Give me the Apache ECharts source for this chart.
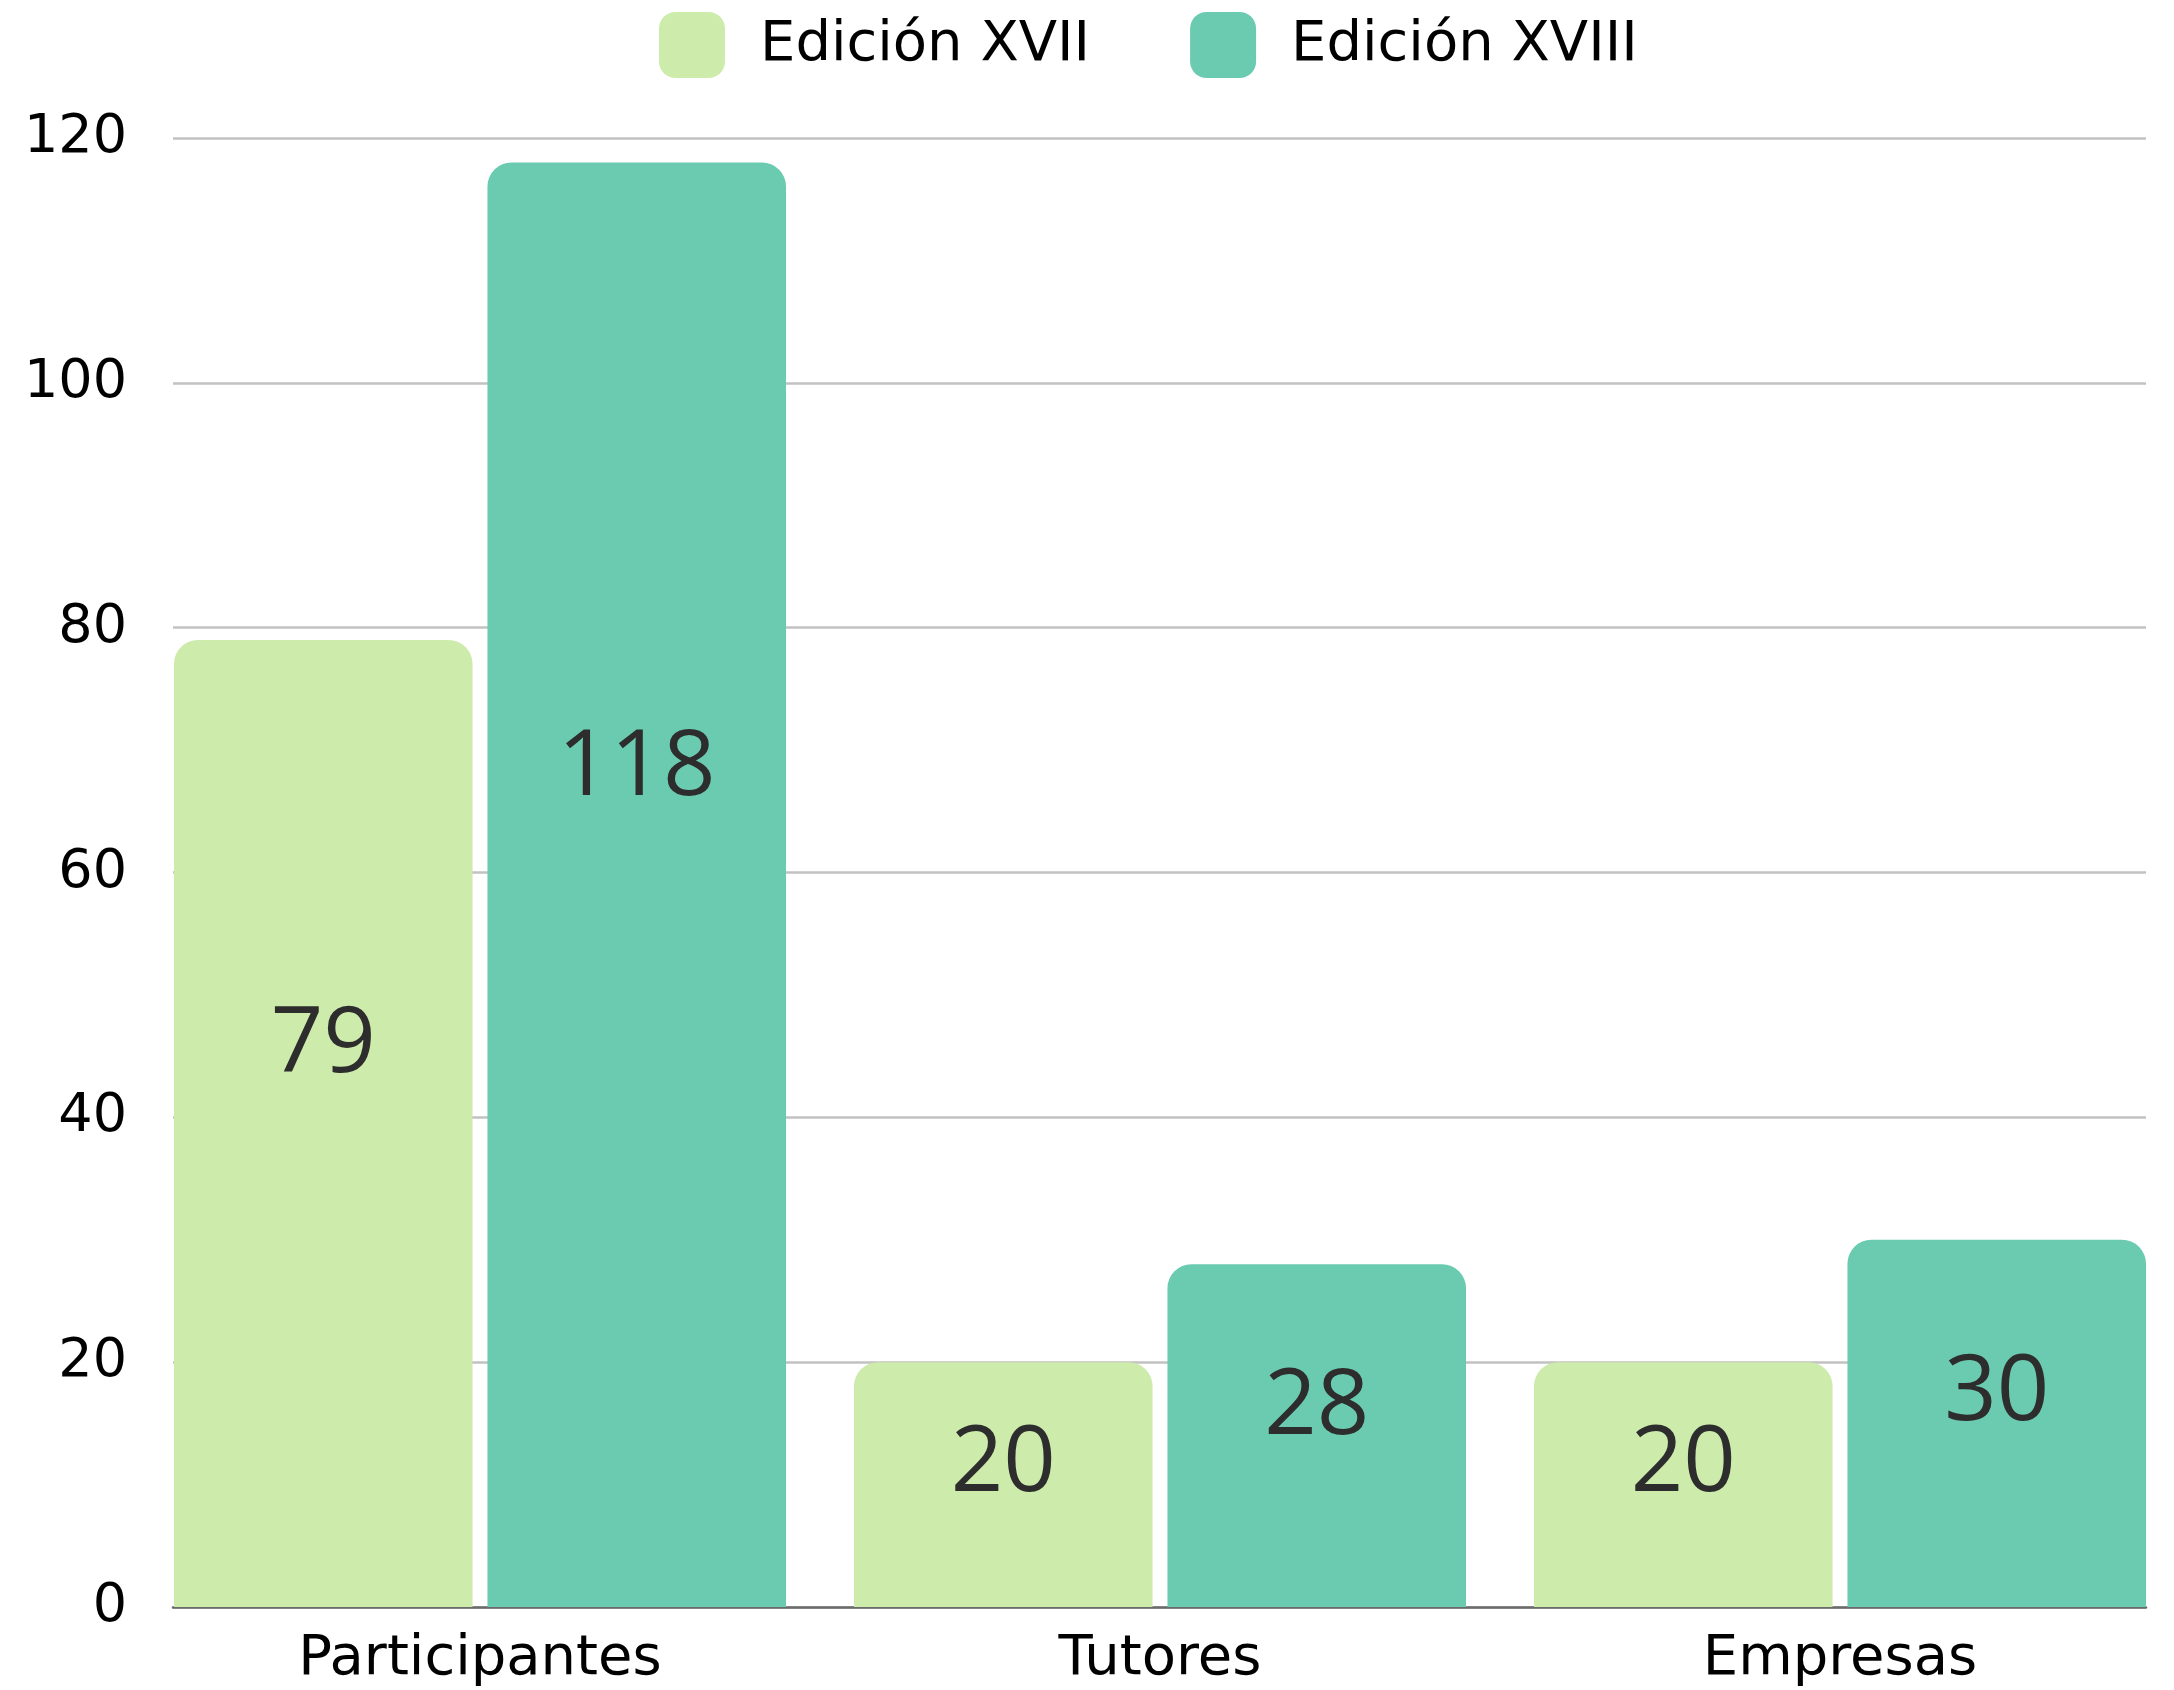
<!DOCTYPE html>
<html>
<head>
<meta charset="utf-8">
<script src="https://cdn.jsdelivr.net/npm/echarts@6/dist/echarts.min.js"></script>
<style>
html,body{margin:0;padding:0;background:#fff;}
#chart{width:2174px;height:1690px;}
</style>
</head>
<body>
<div id="chart"></div>
<script>
const categories = ['Participantes', 'Tutores', 'Empresas'];
const seriesNames = ['Edición XVII', 'Edición XVIII'];
const edicionXVII = [79, 20, 20];
const edicionXVIII = [118, 28, 30];
const yTicks = [0, 20, 40, 60, 80, 100, 120];

const colors = ['#cdebab', '#6acbb0'];
const axisFont = 'DejaVu Sans';
const labelFont = 'Open Sans';

const chart = echarts.init(document.getElementById('chart'), null, {renderer: 'canvas'});

const yMin = yTicks[0], yMax = yTicks[yTicks.length - 1], yStep = yTicks[1] - yTicks[0];

function barSeries(name, data, color) {
  return {
    name: name,
    type: 'bar',
    xAxisIndex: 0,
    yAxisIndex: 0,
    data: data,
    barGap: '5%',
    barCategoryGap: '10%',
    itemStyle: {color: color, borderRadius: [24, 24, 0, 0]},
    label: {
      show: true,
      position: ['50%', '42%'],
      align: 'center',
      verticalAlign: 'middle',
      fontFamily: labelFont,
      fontSize: 92,
      color: '#2d2d2d'
    },
    z: 3
  };
}

chart.setOption({
  animation: false,
  backgroundColor: '#ffffff',
  legend: {
    data: seriesNames,
    left: 654,
    top: 7,
    itemWidth: 66,
    itemHeight: 66,
    itemGap: 100,
    icon: 'roundRect',
    textStyle: {
      fontFamily: axisFont,
      fontSize: 56,
      color: '#000000',
      padding: [0, 0, 0, 30]
    }
  },
  grid: [
    {left: 140, width: 2040, top: 138, height: 1469, containLabel: false, outerBoundsMode: 'none'},
    {left: 173, right: 28, top: 138, height: 1469, containLabel: false, outerBoundsMode: 'none'}
  ],
  xAxis: [
    {
      gridIndex: 0,
      type: 'category',
      data: categories,
      axisLine: {show: false},
      axisTick: {show: false},
      axisLabel: {
        fontFamily: axisFont,
        fontSize: 56,
        color: '#000000',
        margin: 24
      }
    },
    {
      gridIndex: 1,
      type: 'category',
      data: categories,
      axisLine: {show: true, lineStyle: {color: '#6b6b6b', width: 2.5}},
      axisTick: {show: false},
      axisLabel: {show: false},
      splitLine: {show: false}
    }
  ],
  yAxis: [
    {
      gridIndex: 0,
      type: 'value',
      min: yMin, max: yMax, interval: yStep,
      axisLine: {show: false},
      axisTick: {show: false},
      axisLabel: {show: false},
      splitLine: {show: false}
    },
    {
      gridIndex: 1,
      type: 'value',
      min: yMin, max: yMax, interval: yStep,
      axisLine: {show: false},
      axisTick: {show: false},
      axisLabel: {
        fontFamily: axisFont,
        fontSize: 54,
        color: '#000000',
        margin: 46
      },
      splitLine: {show: true, lineStyle: {color: '#c2c2c2', width: 2.5}}
    }
  ],
  series: [
    barSeries(seriesNames[0], edicionXVII, colors[0]),
    barSeries(seriesNames[1], edicionXVIII, colors[1])
  ]
});
</script>
</body>
</html>
